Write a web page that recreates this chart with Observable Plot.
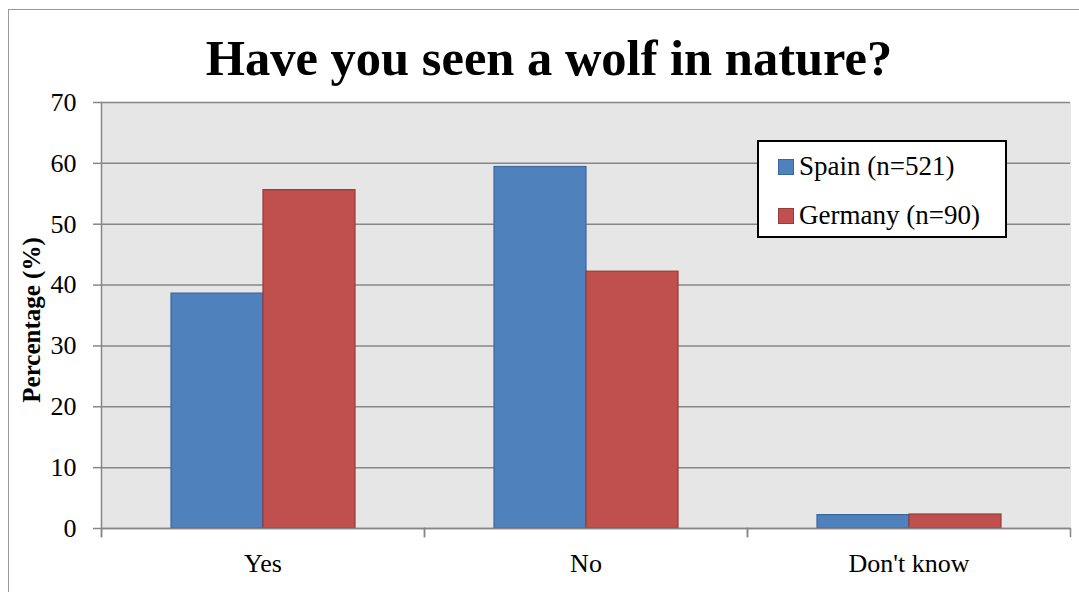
<!DOCTYPE html>
<html>
<head>
<meta charset="utf-8">
<script src="https://cdn.jsdelivr.net/npm/d3@7"></script>
<script src="https://cdn.jsdelivr.net/npm/@observablehq/plot@0.6"></script>
<style>
  body { margin: 0; background: #fff; }
  #wrap { position: relative; width: 1079px; height: 592px; overflow: hidden; font-family: "Liberation Serif", serif; color: #000; }
  #chart { position: absolute; left: 0; top: 0; }
  #border { position: absolute; left: 8px; top: 9px; width: 1100px; height: 620px; border: 1px solid #9a9a9a; box-sizing: border-box; pointer-events: none; }
  #title { position: absolute; left: 0; top: 33px; width: 1098px; text-align: center; font-weight: bold; font-size: 50.5px; line-height: 50px; white-space: nowrap; }
  #ylabel { position: absolute; left: 31px; top: 320px; transform: translate(-50%, -50%) rotate(-90deg); font-weight: bold; font-size: 25px; white-space: nowrap; line-height: 25px; }
  #legend { position: absolute; left: 757px; top: 140px; width: 250px; height: 98px; border: 2px solid #000; background: #fff; box-sizing: border-box; }
  .item { position: absolute; left: 19px; font-size: 27px; line-height: 27px; white-space: nowrap; display: flex; align-items: center; }
  .sw { width: 14px; height: 14px; border: 1px solid; margin-right: 5px; display: inline-block; }
</style>
</head>
<body>
<div id="wrap">
  <div id="chart"></div>
  <div id="title">Have you seen a wolf in nature?</div>
  <div id="ylabel">Percentage (%)</div>
  <div id="legend"></div>
  <div id="border"></div>
</div>
<script>
const categories = ["Yes", "No", "Don't know"];
const seriesNames = ["Spain (n=521)", "Germany (n=90)"];
const spainValues = [38.6, 59.4, 2.2];
const germanyValues = [55.6, 42.2, 2.3];
const fills = ["#4f81bd", "#c0504d"];
const strokes = ["#3a679e", "#963b39"];

const rows = [];
categories.forEach((c, i) => {
  rows.push({cat: c, series: seriesNames[0], value: spainValues[i]});
  rows.push({cat: c, series: seriesNames[1], value: germanyValues[i]});
});

const W = 1079, H = 592, mL = 101, mR = 9, mT = 102, mB = 64;
const innerH = H - mT - mB;

const chart = Plot.plot({
  width: W,
  height: H,
  marginLeft: mL,
  marginRight: mR,
  marginTop: mT,
  marginBottom: mB,
  style: {background: "transparent", fontFamily: "Liberation Serif, serif", fontSize: "26px", color: "#000"},
  fx: {domain: categories, padding: 0, label: null, axis: null},
  x: {domain: seriesNames, paddingInner: 0, paddingOuter: 0.742, axis: null},
  y: {domain: [0, 70], axis: null},
  marks: [
    Plot.frame({fill: "#e6e6e6", stroke: "none", insetLeft: -0.6, insetRight: -0.6}),
    Plot.gridY({ticks: 7, stroke: "#878787", strokeOpacity: 1, strokeWidth: 1.5}),
    Plot.barY(rows.filter(d => d.series === seriesNames[0]), {fx: "cat", x: "series", y: "value", fill: fills[0], stroke: strokes[0], strokeWidth: 1.2}),
    Plot.barY(rows.filter(d => d.series === seriesNames[1]), {fx: "cat", x: "series", y: "value", fill: fills[1], stroke: strokes[1], strokeWidth: 1.2}),
    Plot.ruleY([0], {stroke: "#878787", strokeWidth: 1.5}),
    Plot.frame({anchor: "left", facetAnchor: "left", stroke: "#878787", strokeWidth: 1.5, insetBottom: -8}),
    Plot.frame({anchor: "left", stroke: "#878787", strokeWidth: 1.5, insetTop: innerH, insetBottom: -8}),
    Plot.frame({anchor: "right", stroke: "#878787", strokeWidth: 1.5, insetTop: innerH, insetBottom: -8}),
    Plot.axisY({ticks: 7, tickSize: 8, tickPadding: 17, stroke: "#878787", strokeWidth: 1.5, fill: "#000", label: null}),
    Plot.axisFx({anchor: "bottom", tickSize: 0, tickPadding: 25, label: null, fill: "#000"})
  ]
});
document.getElementById("chart").appendChild(chart);

const legend = document.getElementById("legend");
seriesNames.forEach((name, i) => {
  const item = document.createElement("div");
  item.className = "item";
  item.style.top = (i === 0 ? 11 : 60) + "px";
  const sw = document.createElement("span");
  sw.className = "sw";
  sw.style.background = fills[i];
  sw.style.borderColor = strokes[i];
  item.appendChild(sw);
  item.appendChild(document.createTextNode(name));
  legend.appendChild(item);
});
</script>
</body>
</html>
